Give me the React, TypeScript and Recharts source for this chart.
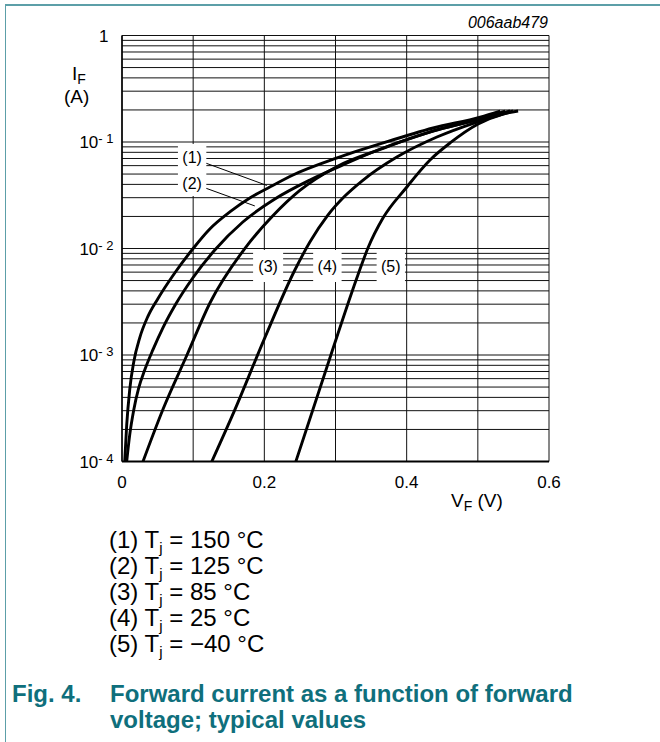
import React from 'react';
import {
  LineChart,
  Line,
  XAxis,
  YAxis,
  CartesianGrid,
  ReferenceArea,
  ReferenceLine,
} from 'recharts';

const FONT = '"Liberation Sans", Arial, sans-serif';
const TEAL = '#0f6f7c';

// forward voltage (V) and forward current (A)
const vf1 = [0.0038, 0.0066, 0.0108, 0.0165, 0.0249, 0.0361, 0.0502, 0.0741, 0.0994, 0.1234, 0.1515, 0.1796, 0.2077, 0.2403, 0.3022, 0.3669, 0.4372, 0.5033, 0.5314];
const if1 = [1e-4, 2.2e-4, 4.69e-4, 8.6e-4, 1.45e-3, 2.28e-3, 3.36e-3, 5.89e-3, 9.89e-3, 0.01524, 0.02203, 0.02979, 0.03776, 0.04897, 0.07079, 0.09795, 0.1353, 0.1716, 0.1954];

const vf2 = [0.0066, 0.0108, 0.0165, 0.0235, 0.0319, 0.0432, 0.0573, 0.0756, 0.0994, 0.1304, 0.1698, 0.2148, 0.264, 0.3132, 0.3669, 0.4372, 0.5075, 0.5384];
const if2 = [1e-4, 1.77e-4, 3.05e-4, 4.9e-4, 7.22e-4, 1.11e-3, 1.79e-3, 3.01e-3, 5.28e-3, 9.68e-3, 0.01774, 0.02917, 0.04395, 0.06209, 0.08784, 0.1268, 0.168, 0.1954];

const vf3 = [0.0295, 0.0579, 0.091, 0.1241, 0.172, 0.211, 0.2499, 0.3016, 0.3671, 0.4422, 0.5077, 0.5453];
const if3 = [1e-4, 3.13e-4, 9.89e-4, 3.13e-3, 9.89e-3, 0.01995, 0.03506, 0.05861, 0.08725, 0.1297, 0.167, 0.1954];

const vf4 = [0.1262, 0.1585, 0.1993, 0.2429, 0.264, 0.2893, 0.3132, 0.3371, 0.3862, 0.4425, 0.4988, 0.5495];
const if4 = [1e-4, 3.05e-4, 1.38e-3, 6.28e-3, 0.0115, 0.0206, 0.0311, 0.043, 0.0722, 0.1114, 0.154, 0.1954];

const vf5 = [0.2443, 0.2935, 0.3315, 0.3456, 0.3667, 0.3991, 0.4328, 0.461, 0.5004, 0.5355, 0.5566];
const if5 = [1e-4, 1e-3, 5.64e-3, 0.0101, 0.0193, 0.037, 0.0678, 0.098, 0.1476, 0.1832, 0.1954];

const curves = [
  [vf1, if1],
  [vf2, if2],
  [vf3, if3],
  [vf4, if4],
  [vf5, if5],
];

const xTicks = [0, 0.1, 0.2, 0.3, 0.4, 0.5, 0.6];
const xTickLabels = ['0', '', '0.2', '', '0.4', '', '0.6'];

const decades = [1e-4, 1e-3, 1e-2, 1e-1];
const yTicks: number[] = [];
decades.forEach((d) => {
  for (let m = 1; m <= 9; m++) yTicks.push(m * d);
});
yTicks.push(1);

// curve labels: text, box [v1, v2, i1, i2]
const curveLabels = ['(1)', '(2)', '(3)', '(4)', '(5)'];
const labelBoxes = [
  [0.0786, 0.1185, 0.0534, 0.0957],
  [0.0786, 0.1185, 0.0311, 0.0534],
  [0.1842, 0.2264, 0.00484, 0.00968],
  [0.2686, 0.3086, 0.00484, 0.00968],
  [0.3578, 0.3976, 0.00484, 0.00968],
];
// leader lines from labels (1) and (2) to their curves
const leaders = [
  [0.1185, 0.0631, 0.2035, 0.0391],
  [0.1185, 0.0367, 0.1866, 0.0251],
];

const legendTemps = ['150', '125', '85', '25', '\u221240'];

const YTick = (props: any) => {
  const { x, y, payload } = props;
  const val = payload.value as number;
  const e = Math.log10(val);
  const k = Math.round(e);
  if (Math.abs(e - k) > 1e-6) return <g />;
  if (k === 0) {
    return (
      <text x={x - 13.5} y={y + 6} textAnchor="end" fontSize={17} fill="#000" fontFamily={FONT}>
        1
      </text>
    );
  }
  return (
    <text x={x - 8.5} y={y + 6} textAnchor="end" fontSize={17} fill="#000" fontFamily={FONT}>
      10
      <tspan dy={-5} fontSize={13}>{`- ${-k}`}</tspan>
    </text>
  );
};

const XTick = (props: any) => {
  const { x, y, index } = props;
  const label = xTickLabels[index];
  if (!label) return <g />;
  return (
    <text x={x} y={y + 26} textAnchor="middle" fontSize={17} fill="#000" fontFamily={FONT}>
      {label}
    </text>
  );
};

export default function App() {
  return (
    <div
      style={{
        position: 'absolute',
        left: 0,
        top: 0,
        width: 660,
        height: 742,
        background: '#fff',
        fontFamily: FONT,
        overflow: 'hidden',
      }}
    >
      <div style={{ position: 'absolute', left: 5, top: 4, width: 655, height: 1.5, background: '#5c9fa8' }} />
      <div style={{ position: 'absolute', left: 4.5, top: 4, width: 1.5, height: 738, background: '#5c9fa8' }} />

      <div style={{ position: 'absolute', left: 0, top: 0 }}>
        <LineChart width={660} height={520} margin={{ top: 35.5, right: 111, bottom: 28.5, left: 0 }}>
          <CartesianGrid stroke="#111" strokeWidth={1} />
          <XAxis
            type="number"
            dataKey="v"
            domain={[0, 0.6]}
            ticks={xTicks}
            tick={<XTick />}
            tickLine={false}
            tickSize={0}
            tickMargin={0}
            height={30}
            axisLine={{ stroke: '#000', strokeWidth: 2 }}
            allowDataOverflow
          />
          <YAxis
            type="number"
            scale="log"
            domain={[1e-4, 1]}
            ticks={yTicks}
            tick={<YTick />}
            tickLine={false}
            tickSize={0}
            tickMargin={0}
            width={122}
            axisLine={{ stroke: '#000', strokeWidth: 1.5 }}
            allowDataOverflow
            interval={0}
          />
          {labelBoxes.map((b, i) => (
            <ReferenceArea
              key={`box-${i}`}
              x1={b[0]}
              x2={b[1]}
              y1={b[2]}
              y2={b[3]}
              fill="#fff"
              fillOpacity={1}
              stroke="none"
              label={{ value: curveLabels[i], position: 'center', fontSize: 16, fill: '#000', fontFamily: FONT }}
            />
          ))}
          {leaders.map((l, i) => (
            <ReferenceLine
              key={`leader-${i}`}
              segment={[
                { x: l[0], y: l[1] },
                { x: l[2], y: l[3] },
              ]}
              stroke="#000"
              strokeWidth={1}
            />
          ))}
          {curves.map(([vs, is], n) => (
            <Line
              key={`curve-${n}`}
              data={vs.map((v, k) => ({ v, i: is[k] }))}
              dataKey="i"
              type="monotone"
              stroke="#000"
              strokeWidth={2.9}
              dot={false}
              activeDot={false}
              isAnimationActive={false}
            />
          ))}
        </LineChart>
      </div>

      <svg
        width={660}
        height={520}
        style={{ position: 'absolute', left: 0, top: 0, pointerEvents: 'none' }}
        fontFamily={FONT}
      >
        <text x={548} y={28} textAnchor="end" fontSize={16} fontStyle="italic" fill="#000">
          006aab479
        </text>
        <text x={72} y={80} fontSize={19} fill="#000">
          I<tspan dy={4} fontSize={14}>F</tspan>
        </text>
        <text x={64} y={103} fontSize={19} fill="#000">
          (A)
        </text>
        <text x={451} y={506.5} fontSize={19} fill="#000">
          V<tspan dy={4} fontSize={14}>F</tspan>
          <tspan dy={-4}> (V)</tspan>
        </text>
      </svg>

      <div style={{ position: 'absolute', left: 109, top: 527, fontSize: 24, lineHeight: '26px', color: '#000' }}>
        {legendTemps.map((t, i) => (
          <div key={i} style={{ height: 26, whiteSpace: 'nowrap' }}>
            {`(${i + 1}) T`}
            <sub style={{ fontSize: 15, lineHeight: 0, verticalAlign: '-5px' }}>j</sub>
            {` = ${t} \u00b0C`}
          </div>
        ))}
      </div>

      <div
        style={{
          position: 'absolute',
          left: 12,
          top: 681,
          fontSize: 24,
          lineHeight: '26px',
          fontWeight: 'bold',
          color: TEAL,
          whiteSpace: 'nowrap',
        }}
      >
        <div>Fig. 4.</div>
      </div>
      <div
        style={{
          position: 'absolute',
          left: 110,
          top: 681,
          fontSize: 24,
          lineHeight: '26px',
          fontWeight: 'bold',
          color: TEAL,
          whiteSpace: 'nowrap',
        }}
      >
        <div>Forward current as a function of forward</div>
        <div>voltage; typical values</div>
      </div>
    </div>
  );
}
